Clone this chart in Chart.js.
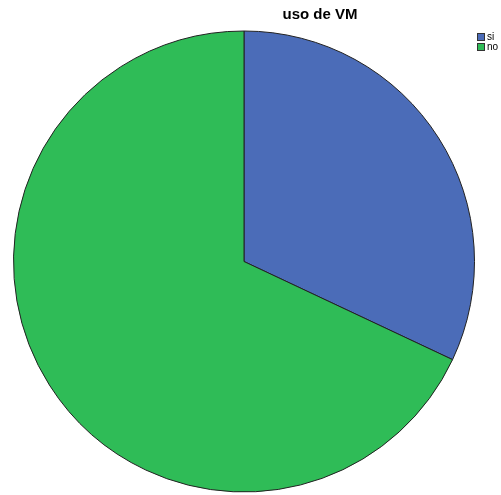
<!DOCTYPE html>
<html>
<head>
<meta charset="utf-8">
<script src="https://cdn.jsdelivr.net/npm/chart.js@4"></script>
<style>
  html, body { margin: 0; padding: 0; background: #fff; }
  #wrap { width: 501px; height: 495px; position: relative; }
</style>
</head>
<body>
<div id="wrap"><canvas id="chart_vm" width="501" height="495"></canvas></div>
<script>
const title = 'uso de VM';
const labels = ['si', 'no'];
const values = [32, 68];
const colors = ['#4B6CB8', '#2FBC57'];

// legend + title drawn by hand, placed like the original
const sideLegend = {
  id: 'sideLegend',
  afterDraw(chart) {
    const ctx = chart.ctx;
    ctx.save();
    ctx.fillStyle = '#000';
    ctx.font = 'bold 15px "Liberation Sans", Arial, sans-serif';
    ctx.textAlign = 'center';
    ctx.textBaseline = 'middle';
    ctx.fillText(title, 320, 15);

    ctx.font = '10px "Liberation Sans", Arial, sans-serif';
    ctx.textAlign = 'left';
    labels.forEach((lab, i) => {
      const y = 33 + i * 10;
      ctx.fillStyle = colors[i];
      ctx.fillRect(477, y, 8, 8);
      ctx.strokeStyle = '#333';
      ctx.lineWidth = 1;
      ctx.strokeRect(477.5, y + 0.5, 7, 7);
      ctx.fillStyle = '#000';
      ctx.fillText(lab, 487, y + 4.5);
    });
    ctx.restore();
  }
};

const ctx = document.getElementById('chart_vm');
const chart = new Chart(ctx, {
  type: 'pie',
  data: {
    labels,
    datasets: [{
      data: values,
      backgroundColor: colors,
      borderColor: '#222',
      borderWidth: 1
    }]
  },
  options: {
    responsive: false,
    animation: false,
    layout: { padding: { left: 13, right: 26, top: 30, bottom: 2 } },
    plugins: {
      legend: { display: false },
      title: { display: false },
      tooltip: { enabled: false }
    }
  },
  plugins: [sideLegend]
});
</script>
</body>
</html>
